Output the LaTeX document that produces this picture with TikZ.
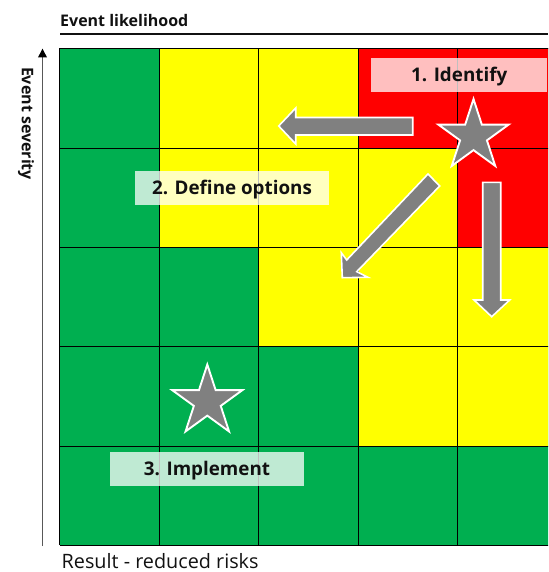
\documentclass[tikz,border=0pt]{standalone}
\usepackage{fontspec}
\setmainfont{Open Sans}
\usetikzlibrary{shapes.geometric,arrows.meta}
\definecolor{rgreen}{HTML}{00AF50}
\definecolor{ryellow}{HTML}{FFFF00}
\definecolor{rred}{HTML}{FF0000}
\definecolor{rgrey}{HTML}{808080}
\definecolor{rink}{HTML}{111111}
\tikzset{
  gridline/.style={draw=black,line width=0.9pt},
  starmark/.style={star,star points=5,star point ratio=2.618,draw=white,fill=rgrey,line width=1.9pt,inner sep=0pt,minimum size=74pt,miter limit=10},
  blockarrow/.style={draw=white,fill=rgrey,line width=1.6pt,line join=miter,miter limit=10},
  stepbox/.style={fill=white,fill opacity=.75,text opacity=1,draw=none,inner sep=0pt,minimum height=33.5pt,text height=15pt,text depth=1.6pt,text=rink,font=\fontsize{18.8}{22}\selectfont\bfseries},
  axistitle/.style={inner sep=0pt,text=rink,font=\fontsize{16}{18}\selectfont\bfseries},
}
\begin{document}
\begin{tikzpicture}[x=1pt,y=-1pt]
\useasboundingbox (0,0) rectangle (548,572);
\begin{scope}
\clip (0,0) rectangle (548,572);
% cells
\def\xa{59.5}\def\xb{159}\def\xc{258.5}\def\xd{358}\def\xe{457.5}\def\xf{557}
\def\ya{48.5}\def\yb{148}\def\yc{247.5}\def\yd{346.5}\def\ye{446}\def\yf{545}
\fill[rgreen] (\xa,\ya) rectangle (\xf,\yf);
\fill[ryellow] (\xb,\ya) rectangle (\xd,\yc);
\fill[ryellow] (\xc,\yc) rectangle (\xf,\yd);
\fill[ryellow] (\xd,\yb) rectangle (\xe,\yc);
\fill[ryellow] (\xd,\yd) rectangle (\xf,\ye);
\fill[rred] (\xd,\ya) rectangle (\xf,\yb);
\fill[rred] (\xe,\yb) rectangle (\xf,\yc);
% grid
\foreach \gx in {\xa,\xb,\xc,\xd,\xe}{\draw[gridline] (\gx,\ya) -- (\gx,\yf);}
\foreach \gy in {\ya,\yb,\yc,\yd,\ye,\yf}{\draw[gridline] (\xa,\gy) -- (\xf,\gy);}
\end{scope}
% axes
\coordinate (topS) at (60,34);
\coordinate (topE) at (548,34);
\draw[rink,line width=1.8pt] (topS) -- (topE);
\coordinate (axS) at (42.5,546);
\coordinate (axE) at (42.5,48.5);
\draw[rink!70,line width=1.9pt,-{Triangle[length=9pt,width=8.5pt,color=black]}] (axS) -- (axE);
\node[axistitle,anchor=west] (lik) at (60,20.5) {Event likelihood};
\node[axistitle,rotate=-90] (sev) at (26,123.5) {Event severity};
\node[anchor=base west,inner sep=0pt,text depth=0pt,text=rink,font=\fontsize{19.8}{22}\selectfont] (res) at (61.5,568.5) {Result - reduced risks};
% arrows
\draw[blockarrow] (412.7,117.5) -- (295.7,117.5) -- (295.7,108) -- (278.7,126) -- (295.7,144) -- (295.7,135) -- (412.7,135) -- cycle;
\draw[blockarrow] (482.7,182.3) -- (500.7,182.3) -- (500.7,300) -- (509.7,300) -- (491.7,316.7) -- (474,300) -- (482.7,300) -- cycle;
\draw[blockarrow] (428,174) -- (439.7,186) -- (356.7,271.7) -- (368,277.3) -- (342.3,277.7) -- (341.3,252.7) -- (346.7,260) -- cycle;
% stars
\node[starmark] (s1) at (473.5,136) {};
\node[starmark] (s2) at (207.3,401.5) {};
% labels
\node[stepbox,minimum width=176.5pt] (l1) at (459.2,75) {1. Identify};
\node[stepbox,minimum width=194pt] (l2) at (232,188) {2. Define options};
\node[stepbox,minimum width=194pt] (l3) at (207,469) {3. Implement};
\end{tikzpicture}
\end{document}
